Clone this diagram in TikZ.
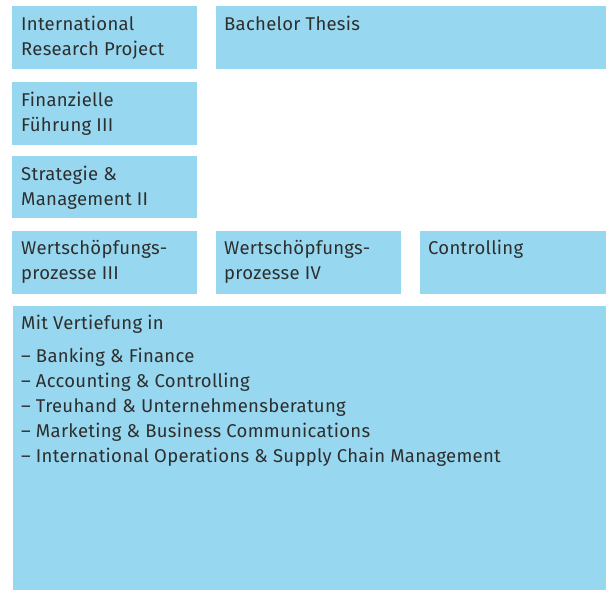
\documentclass[tikz,border=0pt]{standalone}
\usepackage{fontspec}
\setmainfont[LetterSpace=1.5]{Fira Sans}
\definecolor{boxblue}{HTML}{97D8F0}
\definecolor{txt}{HTML}{2E2E2E}
\begin{document}
\begin{tikzpicture}[x=1pt,y=-1pt,
  box/.style={fill=boxblue,draw=none,inner sep=0pt,anchor=north west},
  lbl/.style={text=txt,inner sep=0pt,anchor=base west,align=left,
    font=\fontsize{18.5}{25.2}\selectfont}]
\useasboundingbox (0,0) rectangle (606,590);
\fill[white] (0,0) rectangle (606,590);
\node[box,minimum width=185,minimum height=63] (b1) at (12,6) {};
\node[box,minimum width=390,minimum height=63] (b2) at (216,6) {};
\node[box,minimum width=185,minimum height=63] (b3) at (12,82) {};
\node[box,minimum width=185,minimum height=62] (b4) at (12,156) {};
\node[box,minimum width=185,minimum height=63] (b5) at (12,231) {};
\node[box,minimum width=185,minimum height=63] (b6) at (216,231) {};
\node[box,minimum width=186,minimum height=63] (b7) at (420,231) {};
\node[box,minimum width=593,minimum height=284] (b8) at (13,306) {};
\node[lbl] (t1) at (21,55.2) {International\\Research Project};
\node[lbl] (t2) at (224,30) {Bachelor Thesis};
\node[lbl] (t3) at (21,131.2) {Finanzielle\\Führung III};
\node[lbl] (t4) at (21,205.2) {Strategie \&\\Management II};
\node[lbl] (t5) at (21,279.2) {Wertschöpfungs-\\prozesse III};
\node[lbl] (t6) at (224,279.2) {Wertschöpfungs-\\prozesse IV};
\node[lbl] (t7) at (428,254) {Controlling};
\node[lbl] (t8) at (21,329) {Mit Vertiefung in};
\node[lbl] (t9) at (21,462.8) {– Banking \& Finance\\– Accounting \& Controlling\\– Treuhand \& Unternehmensberatung\\– Marketing \& Business Communications\\– International Operations \& Supply Chain Management};
\end{tikzpicture}
\end{document}
